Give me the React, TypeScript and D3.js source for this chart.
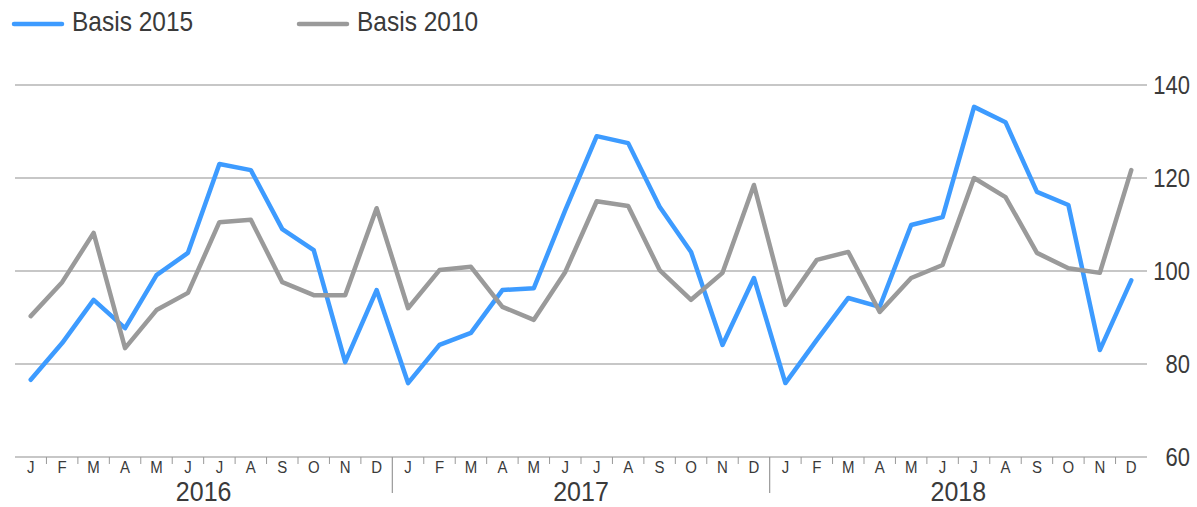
import React from "react";
import * as d3 from "d3";

const years = ["2016", "2017", "2018"];
const monthLetters = ["J", "F", "M", "A", "M", "J", "J", "A", "S", "O", "N", "D"];
const yTicks = [60, 80, 100, 120, 140];

const basis2015 = [
  76.6, 84.5, 93.8, 87.7, 99.1, 103.9, 123, 121.7, 109, 104.5, 80.4, 95.9,
  75.9, 84.1, 86.7, 95.9, 96.3, 113.1, 129, 127.5, 113.8, 104.1, 84.1, 98.5,
  75.9, 85.2, 94.2, 92.3, 109.9, 111.6, 135.3, 132, 117, 114.2, 83, 98,
];
const basis2010 = [
  90.3, 97.6, 108.2, 83.4, 91.6, 95.3, 110.5, 111, 97.6, 94.8, 94.8, 113.5,
  92, 100.2, 100.9, 92.3, 89.5, 99.8, 115, 114, 100.2, 93.8, 99.6, 118.5,
  92.7, 102.4, 104.1, 91.2, 98.5, 101.3, 120, 115.9, 103.9, 100.6, 99.6, 121.7,
];

const seriesNames = ["Basis 2015", "Basis 2010"];
const colors = ["#3d9bff", "#9a9a9a"];

const W = 1197;
const H = 507;
const x0 = 15;
const x1 = 1147;
const yTop = 85;
const yBot = 457;
const gridColor = "#b4b4b4";
const textColor = "#3a3a3a";
const font = "'Liberation Sans', Arial, sans-serif";

export default function App() {
  const keys = d3.range(36).map((i) => String(i));
  const x = d3.scaleBand<string>().domain(keys).range([x0, x1]).padding(0);
  const y = d3.scaleLinear().domain([60, 140]).range([yBot, yTop]);
  const cx = (i: number) => (x(String(i)) as number) + x.bandwidth() / 2;
  const line = d3
    .line<number>()
    .x((_, i) => cx(i))
    .y((d) => y(d));
  const data = [basis2015, basis2010];
  const bw = x.bandwidth();

  return (
    <svg
      width={W}
      height={H}
      style={{ position: "absolute", left: 0, top: 0, background: "#fff" }}
      fontFamily={font}
    >
      {/* grid */}
      {yTicks.map((t) => (
        <g key={t}>
          <line x1={x0} x2={x1} y1={y(t)} y2={y(t)} stroke={gridColor} strokeWidth={1.5} />
          <text
            transform={`translate(1190,${y(t) + 9}) scale(1,1.15)`}
            textAnchor="end"
            fontSize={22}
            fill={textColor}
          >
            {t}
          </text>
        </g>
      ))}
      {/* month ticks */}
      {d3.range(1, 36).map((i) =>
        i % 12 === 0 ? (
          <line
            key={i}
            x1={x(String(i)) as number}
            x2={x(String(i)) as number}
            y1={yBot}
            y2={493}
            stroke="#999"
            strokeWidth={1.2}
          />
        ) : (
          <line
            key={i}
            x1={x(String(i)) as number}
            x2={x(String(i)) as number}
            y1={yBot}
            y2={464}
            stroke="#999"
            strokeWidth={1}
          />
        )
      )}
      {d3.range(36).map((i) => (
        <text
          key={"m" + i}
          transform={`translate(${cx(i)},${473}) scale(1,1.15)`}
          textAnchor="middle"
          fontSize={15}
          fill={textColor}
        >
          {monthLetters[i % 12]}
        </text>
      ))}
      {years.map((yr, k) => (
        <text
          key={yr}
          transform={`translate(${x0 + bw * (k * 12 + 6)},${501}) scale(1,1.12)`}
          textAnchor="middle"
          fontSize={25}
          fill={textColor}
        >
          {yr}
        </text>
      ))}
      {/* series */}
      {data.map((d, k) => (
        <path
          key={k}
          d={line(d) as string}
          fill="none"
          stroke={colors[k]}
          strokeWidth={4.5}
          strokeLinejoin="round"
          strokeLinecap="round"
        />
      ))}
      {/* legend */}
      {seriesNames.map((n, k) => {
        const lx = k === 0 ? 14 : 299;
        return (
          <g key={n}>
            <line x1={lx} x2={lx + 48} y1={24} y2={24} stroke={colors[k]} strokeWidth={4.5} strokeLinecap="round" />
            <text
              transform={`translate(${lx + 58},${31}) scale(1,1.12)`}
              fontSize={24.5}
              fill={textColor}
            >
              {n}
            </text>
          </g>
        );
      })}
    </svg>
  );
}
